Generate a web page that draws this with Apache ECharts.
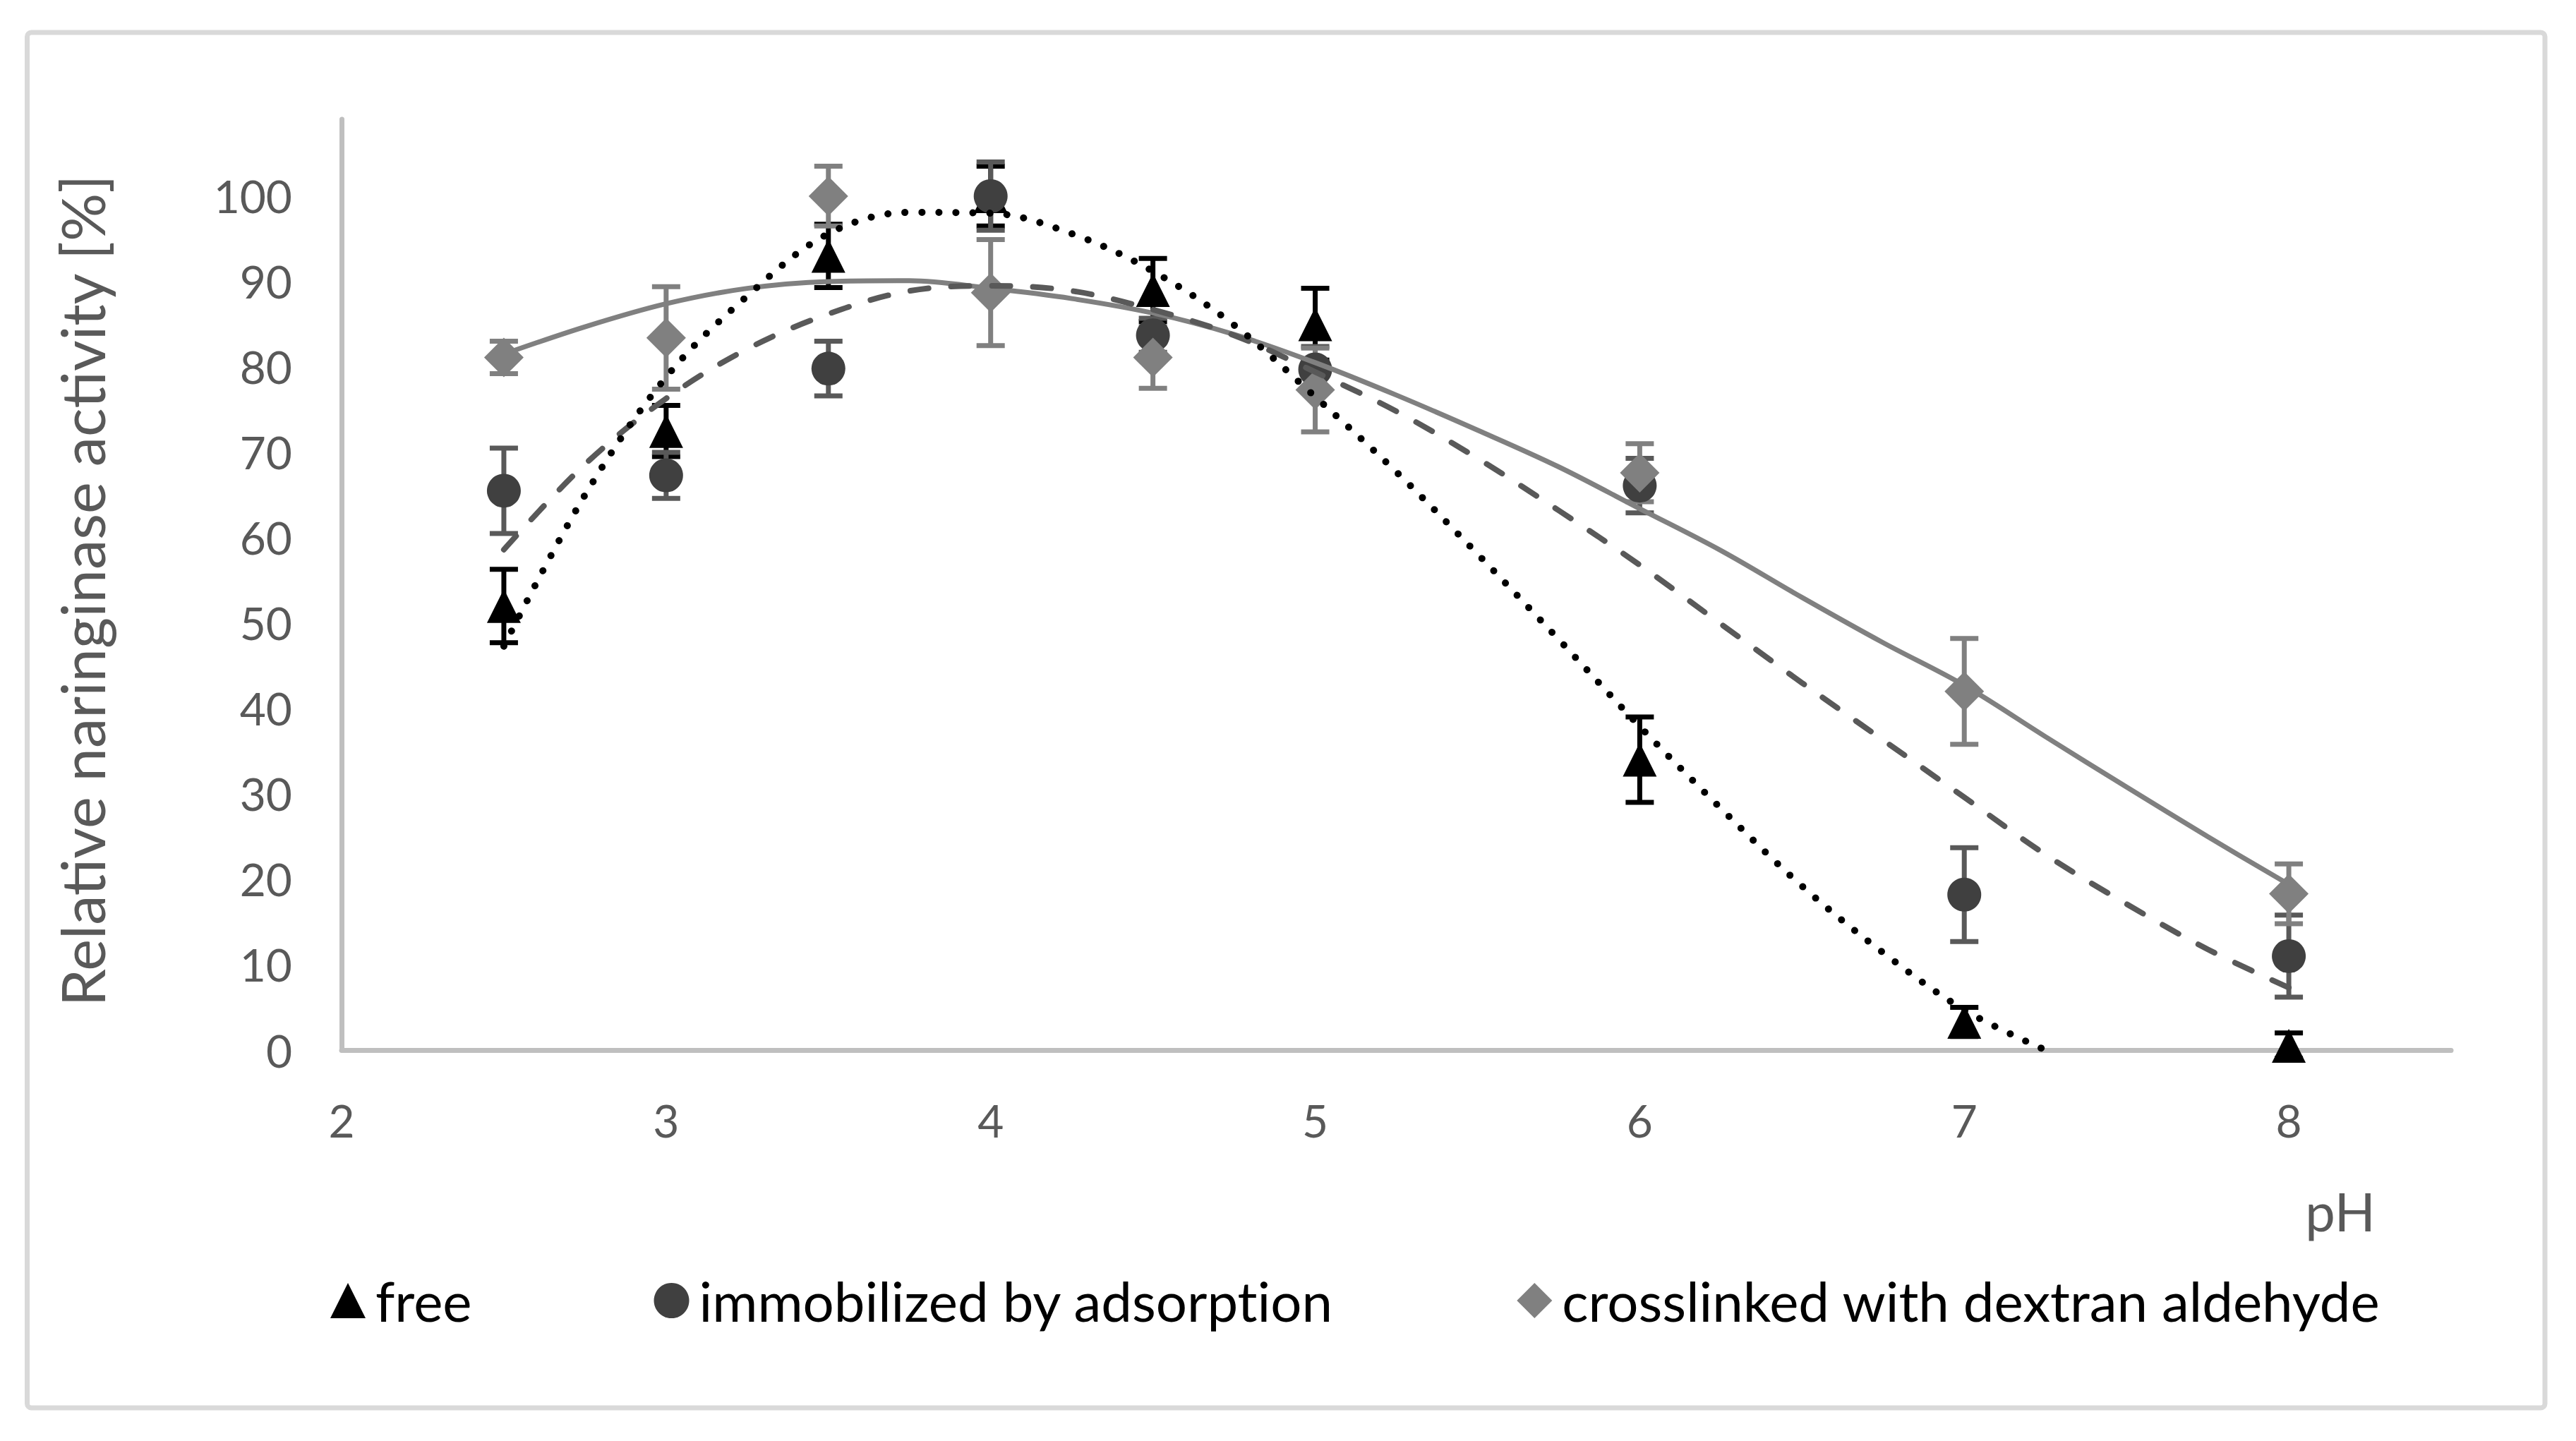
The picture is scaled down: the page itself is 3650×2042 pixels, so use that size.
<!DOCTYPE html>
<html><head><meta charset="utf-8">
<script src="https://cdn.jsdelivr.net/npm/echarts@6/dist/echarts.min.js"></script>
<style>html,body{margin:0;padding:0;background:#fff}#c{width:3650px;height:2042px}
svg text{font-variant-ligatures:none;font-feature-settings:"liga" 0,"clig" 0}</style>
</head><body><div id="c"></div>
<script>
// ---- data ----
const pH = [2.5, 3, 3.5, 4, 4.5, 5, 6, 7, 8];
const freeAct = [52, 72.5, 93, 100, 89, 85, 34, 3.3, 0.5];
const freeErr = [4.3, 3, 3.7, 3.5, 3.7, 4.2, 5, 1.7, 1.5];
const immAct = [65.5, 67.3, 79.8, 100, 83.7, 79.7, 66.1, 18.2, 11];
const immErr = [5, 2.7, 3.2, 4, 2, 2.7, 3.2, 5.5, 4.8];
const crossAct = [81.1, 83.4, 100, 88.7, 81.1, 77.3, 67.6, 42, 18.3];
const crossErr = [1.9, 6, 3.5, 6.2, 3.6, 4.9, 3.4, 6.2, 3.5];
// trendlines as drawn in the reference (read at 0.25 pH steps)
const trendX = [2.5, 2.75, 3, 3.25, 3.5, 3.75, 4, 4.25, 4.5, 4.75, 5, 5.25, 5.5, 5.75, 6, 6.25, 6.5, 6.75, 7, 7.25, 7.5, 7.75, 8];
const trendFree = [47.3, 65.0, 78.8, 88.3, 95.6, 98.1, 98.0, 95.6, 91.2, 84.9, 76.5, 67.7, 58.1, 48.1, 37.9, 28.3, 19.2, 11.4, 4.7, 0];
const trendImm = [58.6, 68.6, 76.3, 82.1, 86.2, 88.9, 89.5, 88.9, 86.7, 83.7, 79.4, 74.8, 69.3, 63.2, 56.8, 49.9, 43.0, 36.3, 29.6, 22.9, 17.1, 11.8, 7.3];
const trendCross = [81.5, 84.7, 87.4, 89.2, 90.0, 90.1, 89.2, 88.0, 86.3, 83.8, 80.5, 76.7, 72.6, 68.3, 63.4, 58.5, 53.0, 47.7, 42.7, 36.7, 30.8, 25.0, 19.4];
const xTickLabels = [2, 3, 4, 5, 6, 7, 8];
const yTickLabels = [0, 10, 20, 30, 40, 50, 60, 70, 80, 90, 100];
const seriesNames = ['free', 'immobilized by adsorption', 'crosslinked with dextran aldehyde'];
const xTitle = 'pH';
const yTitle = 'Relative naringinase activity [%]';

const FONT = 'Lato';
const pairs = (xs, ys) => xs.slice(0, ys.length).map((x, i) => [x, ys[i]]);

function errorBars(name, ys, es, color, z) {
  return {
    type: 'custom', name: name, z: z, silent: true,
    data: pH.map((x, i) => [x, ys[i], es[i]]),
    encode: { x: 0, y: [1] },
    renderItem: function (params, api) {
      const x = api.value(0), y = api.value(1), e = api.value(2);
      const hi = api.coord([x, y + e]), lo = api.coord([x, y - e]);
      const w = 20;
      const style = { stroke: color, lineWidth: 7, fill: null };
      return { type: 'group', children: [
        { type: 'line', shape: { x1: hi[0], y1: hi[1], x2: lo[0], y2: lo[1] }, style: style },
        { type: 'line', shape: { x1: hi[0] - w, y1: hi[1], x2: hi[0] + w, y2: hi[1] }, style: style },
        { type: 'line', shape: { x1: lo[0] - w, y1: lo[1], x2: lo[0] + w, y2: lo[1] }, style: style }
      ]};
    }
  };
}

const chart = echarts.init(document.getElementById('c'), null, { renderer: 'svg' });
chart.setOption({
  animation: false,
  backgroundColor: '#ffffff',
  textStyle: { fontFamily: FONT },
  grid: { left: 484, right: 177, top: 169, bottom: 554, containLabel: false },
  xAxis: {
    type: 'value', min: 2, max: 8.5, interval: 1,
    axisLine: { show: true, lineStyle: { color: '#bfbfbf', width: 7 } },
    axisTick: { show: false }, splitLine: { show: false },
    axisLabel: {
      color: '#595959', fontSize: 64, fontFamily: FONT, margin: 67,
      formatter: v => xTickLabels.includes(v) ? String(v) : ''
    }
  },
  yAxis: {
    type: 'value', min: 0, max: 109, interval: 10,
    axisLine: { show: true, lineStyle: { color: '#bfbfbf', width: 7 } },
    axisTick: { show: false }, splitLine: { show: false },
    axisLabel: {
      color: '#595959', fontSize: 64, fontFamily: FONT, margin: 70,
      formatter: v => yTickLabels.includes(v) ? String(v) : ''
    }
  },
  legend: {
    data: [
      { name: seriesNames[0], icon: 'triangle' },
      { name: seriesNames[1], icon: 'circle' },
      { name: seriesNames[2], icon: 'diamond' }
    ],
    left: 463, top: 1799, itemWidth: 50, itemHeight: 50, itemGap: 258,
    selectedMode: false,
    textStyle: { color: '#000000', fontSize: 78, fontFamily: FONT, padding: [0, 0, 0, 9] }
  },
  graphic: [
    { type: 'rect', silent: true, z: -10,
      shape: { x: 38.5, y: 46, width: 3567.5, height: 1949, r: 6 },
      style: { fill: null, stroke: '#d9d9d9', lineWidth: 7 } },
    { type: 'text', silent: true, x: 116, y: 837, rotation: Math.PI / 2,
      style: { text: yTitle, fill: '#595959', font: '85px ' + FONT, align: 'center', verticalAlign: 'middle' } },
    { type: 'text', silent: true, x: 3316, y: 1715,
      style: { text: xTitle, fill: '#595959', font: '76px ' + FONT, align: 'center', verticalAlign: 'middle' } }
  ],
  series: [
    errorBars(seriesNames[0] + ' SD', freeAct, freeErr, '#000000', 2),
    errorBars(seriesNames[1] + ' SD', immAct, immErr, '#595959', 2),
    errorBars(seriesNames[2] + ' SD', crossAct, crossErr, '#808080', 2),
    { type: 'scatter', name: seriesNames[0], z: 3, symbol: 'triangle', symbolSize: [48, 48],
      itemStyle: { color: '#000000', opacity: 1 }, data: pairs(pH, freeAct) },
    { type: 'scatter', name: seriesNames[1], z: 4, symbol: 'circle', symbolSize: 48,
      itemStyle: { color: '#404040', opacity: 1 }, data: pairs(pH, immAct) },
    { type: 'scatter', name: seriesNames[2], z: 5, symbol: 'diamond', symbolSize: [56, 56],
      itemStyle: { color: '#808080', opacity: 1 }, data: pairs(pH, crossAct) },
    { type: 'line', name: 'trend free', z: 8, smooth: 0.35, showSymbol: false, silent: true,
      lineStyle: { color: '#000000', width: 10, type: [0.1, 24], cap: 'round' },
      data: pairs(trendX, trendFree) },
    { type: 'line', name: 'trend immobilized', z: 7, smooth: 0.35, showSymbol: false, silent: true,
      lineStyle: { color: '#595959', width: 8, type: [26, 32], cap: 'round' },
      data: pairs(trendX, trendImm) },
    { type: 'line', name: 'trend crosslinked', z: 6, smooth: 0.35, showSymbol: false, silent: true,
      lineStyle: { color: '#808080', width: 7, cap: 'round' },
      data: pairs(trendX, trendCross) }
  ]
});
</script></body></html>
